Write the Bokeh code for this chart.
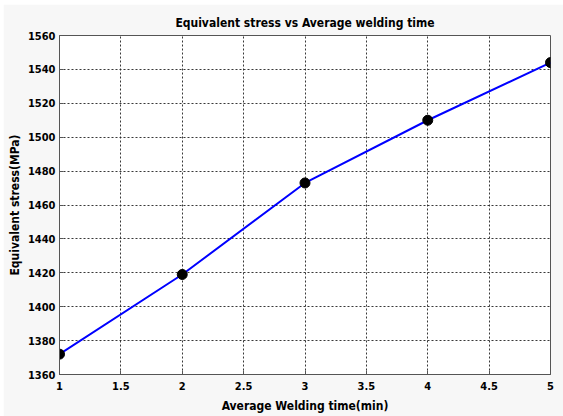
from bokeh.plotting import figure
from bokeh.embed import file_html
from bokeh.resources import INLINE
from bokeh.models import FixedTicker, Range1d

welding_time = [1, 2, 3, 4, 5]
stress = [1372, 1419, 1473, 1510, 1544]

x_ticks = [1, 1.5, 2, 2.5, 3, 3.5, 4, 4.5, 5]
x_tick_labels = ["1", "1.5", "2", "2.5", "3", "3.5", "4", "4.5", "5"]
y_ticks = [1360, 1380, 1400, 1420, 1440, 1460, 1480, 1500, 1520, 1540, 1560]
y_tick_labels = [str(v) for v in y_ticks]

FONT = "'DejaVu Sans Condensed', 'Liberation Sans', sans-serif"

p = figure(
    output_backend="svg", toolbar_location=None,
    frame_width=491, frame_height=339,
    min_border_left=56, min_border_right=13, min_border_top=31, min_border_bottom=42,
    x_range=Range1d(1, 5), y_range=Range1d(1360, 1560),
    title="Equivalent stress vs Average welding time",
    background_fill_color="white", border_fill_color="#f7f7f7",
)
p.margin = (4, 0, 0, 3)

p.title.align = "center"
p.title.text_font = FONT
p.title.text_font_size = "12px"
p.title.text_font_style = "bold"
p.title.text_color = "black"
p.title.offset = 0
p.title.standoff = 11

p.outline_line_color = "#555555"
p.outline_line_width = 1
p.outline_line_alpha = 1

for ax in (p.xaxis[0], p.yaxis[0]):
    ax.axis_line_color = "#555555"
    ax.major_tick_in = 4
    ax.major_tick_out = 0
    ax.minor_tick_line_color = None
    ax.major_tick_line_color = "#555555"
    ax.major_label_text_font = FONT
    ax.major_label_text_font_style = "bold"
    ax.major_label_text_font_size = "11px"
    ax.major_label_text_color = "black"
    ax.axis_label_text_font = FONT
    ax.axis_label_text_font_style = "bold"
    ax.axis_label_text_font_size = "12px"
    ax.axis_label_text_color = "black"

p.xaxis.ticker = FixedTicker(ticks=x_ticks)
p.xaxis.major_label_overrides = dict(zip(x_ticks, x_tick_labels))
p.yaxis.ticker = FixedTicker(ticks=y_ticks)
p.yaxis.major_label_overrides = dict(zip(y_ticks, y_tick_labels))

p.xaxis.axis_label = "Average Welding time(min)"
p.yaxis.axis_label = "Equivalent stress(MPa)"
p.xaxis.major_label_standoff = 7
p.xaxis.axis_label_standoff = 6
p.yaxis.major_label_standoff = 4
p.yaxis.axis_label_standoff = 3

for g in (p.xgrid[0], p.ygrid[0]):
    g.grid_line_color = "#222222"
    g.grid_line_dash = "2 2"
    g.grid_line_width = 1
    g.grid_line_alpha = 0.9

p.line(welding_time, stress, line_color="#0000ff", line_width=2)
p.scatter(welding_time, stress, size=10, fill_color="black", line_color="black")

open("out.html", "w").write(file_html(p, INLINE))
